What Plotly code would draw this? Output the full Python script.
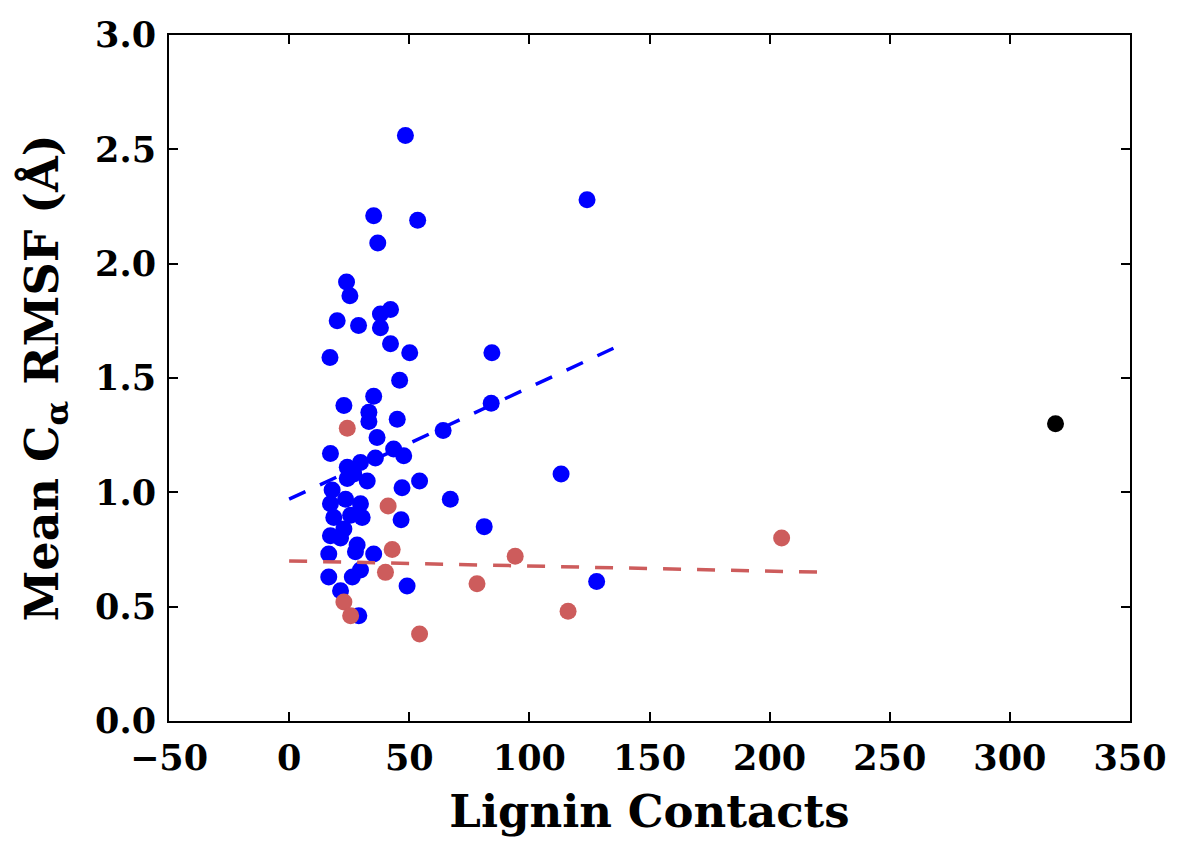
import plotly.graph_objects as go

# Lignin contact counts vs. mean C-alpha RMSF per residue group
blue_contacts = [48.4, 124.0, 35.2, 53.5, 36.9, 23.9, 25.3, 20.0, 42.2, 38.0,
                 28.9, 38.0, 42.2, 50.2, 84.4, 17.0, 46.0, 35.2, 84.1, 22.8,
                 33.2, 33.2, 45.0, 64.1, 36.6, 43.5, 47.7, 17.2, 35.9, 24.2,
                 29.7, 26.9, 32.5, 24.2, 17.9, 47.0, 54.3, 67.1, 113.2, 17.2,
                 23.5, 29.7, 18.6, 25.6, 30.4, 46.6, 81.2, 17.2, 22.8, 21.4,
                 28.3, 27.6, 35.2, 16.5, 29.7, 26.3, 16.5, 49.1, 21.4, 29.0,
                 128.0]
blue_rmsf = [2.56, 2.28, 2.21, 2.19, 2.09, 1.92, 1.86, 1.75, 1.80, 1.78,
             1.73, 1.72, 1.65, 1.61, 1.61, 1.59, 1.49, 1.42, 1.39, 1.38,
             1.35, 1.31, 1.32, 1.27, 1.24, 1.19, 1.16, 1.17, 1.15, 1.11,
             1.13, 1.08, 1.05, 1.06, 1.01, 1.02, 1.05, 0.97, 1.08, 0.95,
             0.97, 0.95, 0.89, 0.90, 0.89, 0.88, 0.85, 0.81, 0.84, 0.80,
             0.77, 0.74, 0.73, 0.73, 0.66, 0.63, 0.63, 0.59, 0.57, 0.46,
             0.61]

red_contacts = [24.2, 41.2, 42.9, 40.1, 78.2, 94.1, 116.1, 205.0, 22.8, 25.6, 54.3]
red_rmsf = [1.28, 0.94, 0.75, 0.65, 0.60, 0.72, 0.48, 0.80, 0.52, 0.46, 0.38]

black_contacts = [319.0]
black_rmsf = [1.30]

# Linear trend end points for each group
blue_fit_x = [0, 135]
blue_fit_y = [0.97, 1.63]
red_fit_x = [0, 225]
red_fit_y = [0.70, 0.65]

x_ticks = [-50, 0, 50, 100, 150, 200, 250, 300, 350]
y_ticks = [0.0, 0.5, 1.0, 1.5, 2.0, 2.5, 3.0]

BLUE = "#0000ff"
RED = "#cd5c5c"
FONT = "DejaVu Serif"

fig = go.Figure()
fig.add_trace(go.Scatter(x=blue_contacts, y=blue_rmsf, mode="markers",
                         marker=dict(color=BLUE, size=17, line=dict(width=0))))
fig.add_trace(go.Scatter(x=red_contacts, y=red_rmsf, mode="markers",
                         marker=dict(color=RED, size=17, line=dict(width=0))))
fig.add_trace(go.Scatter(x=black_contacts, y=black_rmsf, mode="markers",
                         marker=dict(color="black", size=17, line=dict(width=0))))
fig.add_trace(go.Scatter(x=blue_fit_x, y=blue_fit_y, mode="lines",
                         line=dict(color=BLUE, width=3.5, dash="18px,16px")))
fig.add_trace(go.Scatter(x=red_fit_x, y=red_fit_y, mode="lines",
                         line=dict(color=RED, width=3.5, dash="18px,16px")))

axis_common = dict(
    showgrid=False, zeroline=False, showline=True, linecolor="black",
    linewidth=2, mirror="ticks", ticks="inside", ticklen=9, tickwidth=1.5,
    tickcolor="black",
    tickfont=dict(family=FONT, size=35, color="black", weight="bold"),
)

fig.update_layout(
    width=1178, height=841,
    margin=dict(l=169, r=48, t=35, b=120),
    paper_bgcolor="white", plot_bgcolor="white",
    showlegend=False,
    font=dict(family=FONT, color="black"),
    xaxis=dict(range=[-50, 350], tickvals=x_ticks,
               ticktext=[f"{v}".replace("-", "\u2212") for v in x_ticks],
               ticklabelstandoff=5,
               title=dict(text="Lignin Contacts", standoff=18,
                          font=dict(family=FONT, size=45, weight="bold")),
               **axis_common),
    yaxis=dict(range=[0, 3], tickvals=y_ticks,
               ticktext=[f"{v:.1f}" for v in y_ticks],
               ticklabelstandoff=4,
               title=dict(text="Mean C<sub>\u03b1</sub> RMSF (\u00c5)", standoff=22,
                          font=dict(family=FONT, size=46, weight="bold")),
               **axis_common),
)

fig.write_html("out.html")
